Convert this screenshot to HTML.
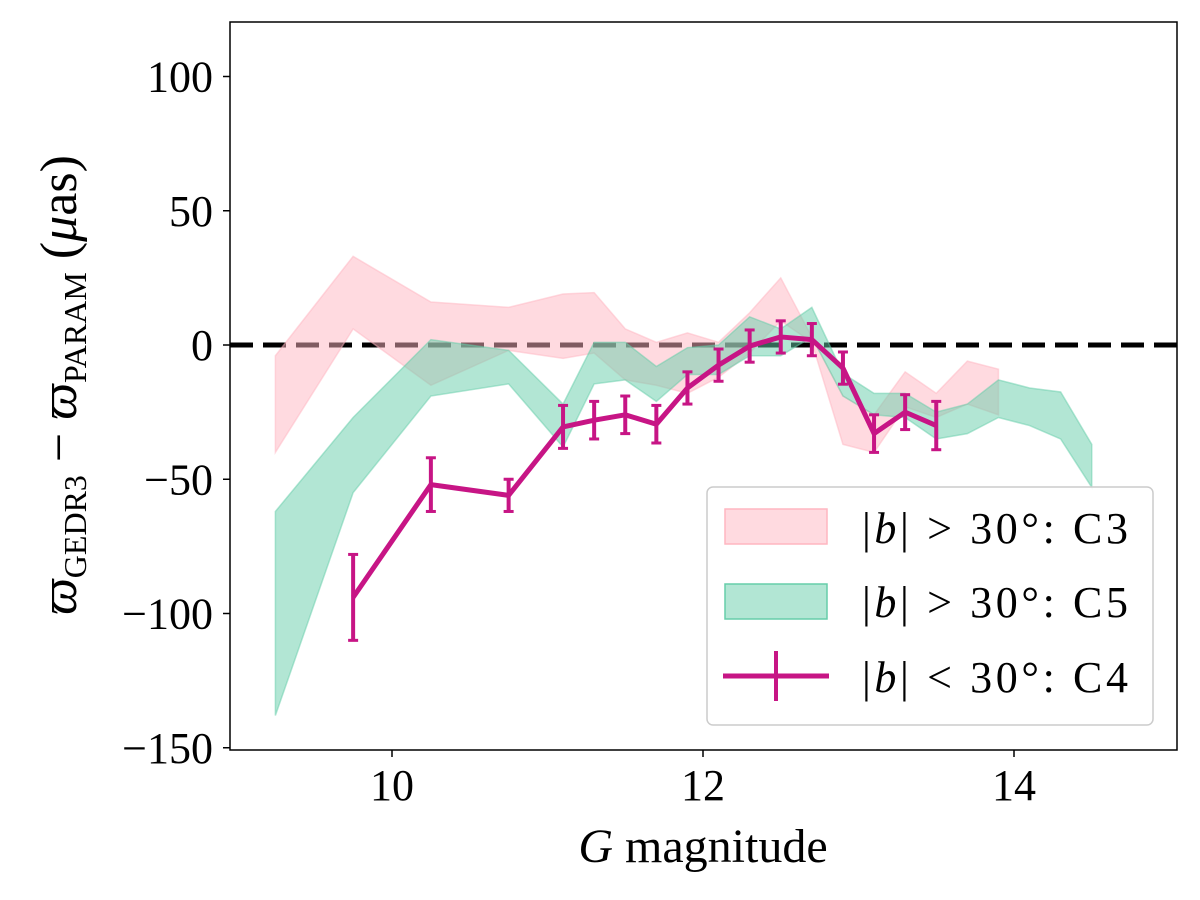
<!DOCTYPE html>
<html><head><meta charset="utf-8"><style>
body{margin:0;background:#fff;}
svg{display:block;font-family:"Liberation Serif","DejaVu Serif",serif;}
</style></head><body>
<svg id="chart" width="1200" height="900" viewBox="0 0 1200 900">
<g id="zero"></g><g id="bands"></g><g id="series"></g>
<rect x="230" y="22" width="947" height="728" fill="none" stroke="#000" stroke-width="1.5"/>
<g id="axes"></g>
<text x="703" y="862" font-size="48" text-anchor="middle"><tspan font-style="italic">G</tspan> magnitude</text>
<text transform="translate(76,385) rotate(-90)" font-size="52" text-anchor="middle"><tspan font-style="italic">ϖ</tspan><tspan font-size="32" dy="10">GEDR3</tspan><tspan dy="-10"> − </tspan><tspan font-style="italic">ϖ</tspan><tspan font-size="32" dy="10">PARAM</tspan><tspan dy="-10"> (</tspan><tspan font-style="italic">μ</tspan>as)</text>
<g>
<rect x="707" y="487" width="446" height="238" rx="6" fill="#fff" fill-opacity="0.8" stroke="#ccc" stroke-width="1.5"/>
<rect x="725" y="509" width="102" height="35" fill="#ffb6c1" fill-opacity="0.5" stroke="#ffb6c1" stroke-width="1.5"/>
<text x="862" y="543" font-size="44" textLength="266">|<tspan font-style="italic">b</tspan>| &gt; 30°: C3</text>
<rect x="725" y="584" width="102" height="35" fill="#66cdaa" fill-opacity="0.5" stroke="#66cdaa" stroke-width="1.5"/>
<text x="862" y="617" font-size="44" textLength="266">|<tspan font-style="italic">b</tspan>| &gt; 30°: C5</text>
<line x1="723" y1="676" x2="829" y2="676" stroke="#c71585" stroke-width="5"/>
<line x1="776" y1="651" x2="776" y2="701" stroke="#c71585" stroke-width="4"/>
<text x="862" y="692" font-size="44" textLength="266">|<tspan font-style="italic">b</tspan>| &lt; 30°: C4</text>
</g>
</svg>
<script>
const c3x=[9.25,9.75,10.25,10.75,11.1,11.3,11.5,11.7,11.9,12.1,12.3,12.5,12.7,12.9,13.1,13.3,13.5,13.7,13.9];
const c3hi=[-4,33,16,14,19,19.5,6,1,4.5,1,12,25,3,-19,-26,-10,-18,-6,-9];
const c3lo=[-40,6,-15,-2,-5,-3,-13,-15,-18,-12,-3,9,1,-37,-40,-23,-27,-22,-26];
const c5x=[9.25,9.75,10.25,10.75,11.1,11.3,11.5,11.7,11.9,12.1,12.3,12.5,12.7,12.9,13.1,13.3,13.5,13.7,13.9,14.1,14.3,14.5];
const c5hi=[-62,-27,2,-2,-22,1,1,-8,-1,0,10.5,6,14,-10.6,-18,-18,-25,-22,-13,-16,-17.5,-37];
const c5lo=[-138,-55,-19,-14.5,-38,-14.5,-13,-21,-11,-11,-4,-4,3,-19,-26,-27,-35,-33,-27,-30,-35,-53];
const c4x=[9.75,10.25,10.75,11.1,11.3,11.5,11.7,11.9,12.1,12.3,12.5,12.7,12.9,13.1,13.3,13.5];
const c4y=[-94,-52,-56,-30.5,-28,-26,-29.5,-16,-7.5,-0.4,3,2,-8.6,-33,-25,-30];
const c4err=[16,10,6,8,7,7,7,6,6,6,6,6,6,7,6.5,9];
const xTicks=[10,12,14];
const yTicks=[-150,-100,-50,0,50,100];
const yTickLabels=["−150","−100","−50","0","50","100"];

const X=v=>392+(v-10)*155.5;
const Y=v=>345-v*2.685;
const NS="http://www.w3.org/2000/svg";
function mk(tag,parent,attrs){const e=document.createElementNS(NS,tag);for(const k in attrs)e.setAttribute(k,attrs[k]);document.getElementById(parent).appendChild(e);return e;}
function band(xs,hi,lo,color,name){
  let pts=xs.map((x,i)=>X(x)+","+Y(hi[i]));
  for(let i=xs.length-1;i>=0;i--)pts.push(X(xs[i])+","+Y(lo[i]));
  const p=mk("polygon","bands",{points:pts.join(" "),fill:color,"fill-opacity":0.5,stroke:color,"stroke-width":1.5,"stroke-opacity":0.5});
  
  
}
band(c3x,c3hi,c3lo,"#ffb6c1","band-c3");
band(c5x,c5hi,c5lo,"#66cdaa","band-c5");
const z2=mk("line","zero",{x1:230,x2:1177,y1:Y(0),y2:Y(0),stroke:"#000","stroke-width":5,"stroke-dasharray":"23,10"});


const line=mk("polyline","series",{points:c4x.map((x,i)=>X(x)+","+Y(c4y[i])).join(" "),fill:"none",stroke:"#c71585","stroke-width":5,"stroke-linejoin":"round"});


c4x.forEach((x,i)=>{
  const e=mk("line","series",{x1:X(x),x2:X(x),y1:Y(c4y[i]+c4err[i]),y2:Y(c4y[i]-c4err[i]),stroke:"#c71585","stroke-width":4});
  
  
  [c4y[i]+c4err[i],c4y[i]-c4err[i]].forEach(v=>{
    const c=mk("line","series",{x1:X(x)-5,x2:X(x)+5,y1:Y(v),y2:Y(v),stroke:"#c71585","stroke-width":3});
    
    
  });
});
xTicks.forEach(t=>{
  const l=mk("line","axes",{x1:X(t),x2:X(t),y1:750,y2:757,stroke:"#000","stroke-width":1.5});
  
  
  const tx=mk("text","axes",{x:X(t),y:800,"font-size":44,"text-anchor":"middle"});
  tx.textContent=t;
  
  
});
yTicks.forEach((t,i)=>{
  const l=mk("line","axes",{x1:223,x2:230,y1:Y(t),y2:Y(t),stroke:"#000","stroke-width":1.5});
  
  
  const tx=mk("text","axes",{x:213,y:Y(t)+15,"font-size":44,"text-anchor":"end"});
  tx.textContent=yTickLabels[i];
  
  
});
</script>
</body></html>
